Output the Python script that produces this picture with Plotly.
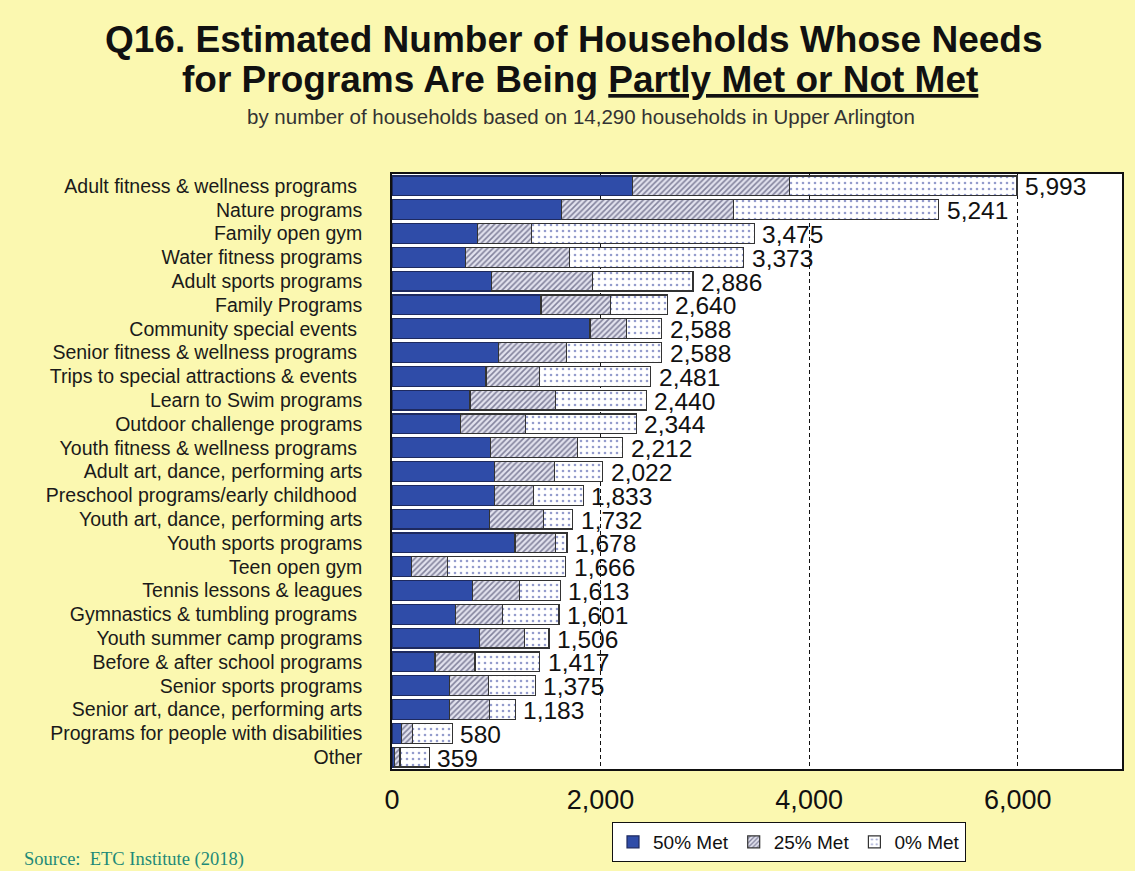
import plotly.graph_objects as go

categories = [
    "Adult fitness & wellness programs ", "Nature programs", "Family open gym",
    "Water fitness programs", "Adult sports programs", "Family Programs",
    "Community special events ", "Senior fitness & wellness programs ",
    "Trips to special attractions & events ", "Learn to Swim programs",
    "Outdoor challenge programs", "Youth fitness & wellness programs ",
    "Adult art, dance, performing arts", "Preschool programs/early childhood ",
    "Youth art, dance, performing arts", "Youth sports programs", "Teen open gym",
    "Tennis lessons & leagues", "Gymnastics & tumbling programs ",
    "Youth summer camp programs", "Before & after school programs",
    "Senior sports programs", "Senior art, dance, performing arts",
    "Programs for people with disabilities", "Other",
]
met50 = [2304, 1627, 818, 703, 956, 1429, 1898, 1023, 901, 748, 659, 946, 981,
         981, 937, 1179, 189, 770, 607, 840, 412, 550, 550, 93, 25]
met25 = [1506, 1646, 521, 997, 965, 664, 349, 648, 511, 821, 619, 831, 575,
         374, 514, 390, 342, 451, 454, 429, 384, 374, 383, 102, 52]
totals = [5993, 5241, 3475, 3373, 2886, 2640, 2588, 2588, 2481, 2440, 2344,
          2212, 2022, 1833, 1732, 1678, 1666, 1613, 1601, 1506, 1417, 1375,
          1183, 580, 359]
met0 = [t - a - b for t, a, b in zip(totals, met50, met25)]
tick_vals = [0, 2000, 4000, 6000]
tick_text = ["0", "2,000", "4,000", "6,000"]

BG = "#FBF8B0"
FONT = "Arial, Liberation Sans, sans-serif"
L, R, T, B = 392, 13, 174, 102
PW, PH = 1135 - L - R, 871 - T - B


def px(x):
    return (x - L) / PW


def py(y):
    return (871 - B - y) / PH


fig = go.Figure()
fig.add_trace(go.Bar(
    y=categories, x=met50, orientation="h", name="50% Met",
    marker=dict(color="#2F4CA8", line=dict(color="#1E2A60", width=1.2)),
))
fig.add_trace(go.Bar(
    y=categories, x=met25, orientation="h", name="25% Met",
    marker=dict(color="#E2E2EE", line=dict(color="#333333", width=1.2),
                pattern=dict(shape="/", fgcolor="#22224A", bgcolor="#E2E2EE",
                             size=4, solidity=0.4)),
))
fig.add_trace(go.Bar(
    y=categories, x=met0, orientation="h", name="0% Met",
    marker=dict(color="white", line=dict(color="#333333", width=1.2),
                pattern=dict(shape=".", fgcolor="#2A3A9A", bgcolor="white",
                             size=6, solidity=0.15)),
))

for c, t in zip(categories, totals):
    fig.add_annotation(x=t, y=c, text=f"{t:,}", showarrow=False,
                       xanchor="left", xshift=7, yshift=-1, borderpad=0,
                       font=dict(family=FONT, size=24.5, color="#111"))

fig.update_layout(
    barmode="stack", bargap=0.17,
    width=1135, height=871,
    paper_bgcolor=BG, plot_bgcolor="white",
    margin=dict(l=L, r=R, t=T, b=B, autoexpand=False),
    font=dict(family=FONT, color="#111"),
    showlegend=True,
    legend=dict(
        orientation="h", x=px(612), y=py(822), xanchor="left", yanchor="top",
        bgcolor="white", bordercolor="#111", borderwidth=1,
        font=dict(size=19, color="#111"), traceorder="normal",
        itemwidth=30, tracegroupgap=0,
    ),
    xaxis=dict(range=[0, 7000], tickvals=tick_vals, ticktext=tick_text,
               showgrid=True, gridcolor="#111", griddash="4px,3px", gridwidth=1,
               showline=True, linecolor="#111", linewidth=1.5, mirror=True,
               zeroline=False, ticks="", tickfont=dict(size=27), ticklabelstandoff=6),
    yaxis=dict(range=[len(categories) - 0.5, -0.5], showline=True, linecolor="#111",
               linewidth=1.5, mirror=True, ticks="", tickmode="array",
               tickvals=categories, ticktext=categories,
               tickfont=dict(size=19.5, color="#1a1a1a"), ticklabelstandoff=24),
)
fig.add_annotation(
    text="<b>Q16. Estimated Number of Households Whose Needs</b>",
    xref="paper", yref="paper", x=px(574), y=py(40), xanchor="center", yanchor="middle",
    showarrow=False, font=dict(size=37, color="#111"),
)
fig.add_annotation(
    text="<b>for Programs Are Being <u>Partly Met or Not Met</u></b>",
    xref="paper", yref="paper", x=px(580), y=py(80), xanchor="center", yanchor="middle",
    showarrow=False, font=dict(size=37, color="#111"),
)
fig.add_annotation(
    text="by number of households based on 14,290 households in Upper Arlington",
    xref="paper", yref="paper", x=px(581), y=py(117),
    xanchor="center", yanchor="middle", showarrow=False,
    font=dict(size=20.5, color="#333"),
)
fig.add_annotation(
    text="Source:  ETC Institute (2018)", xref="paper", yref="paper",
    x=px(22), y=py(859), xanchor="left", yanchor="middle",
    showarrow=False, font=dict(family="Liberation Serif, Times New Roman, serif", size=18.5, color="#1E8A78"),
)
fig.write_html("out.html")
